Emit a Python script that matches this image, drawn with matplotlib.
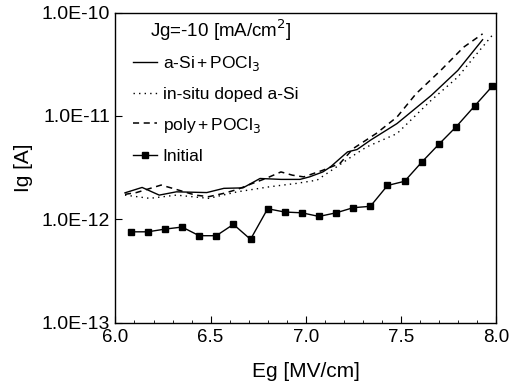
import matplotlib
matplotlib.use("Agg")
import matplotlib.pyplot as plt
from matplotlib.ticker import FixedLocator, MultipleLocator

plt.rcParams['font.family'] = ['Liberation Sans', 'DejaVu Sans']

# a-Si + POCl3 (solid)
eg_asi = [6.05, 6.14, 6.23, 6.32, 6.48, 6.57, 6.67, 6.76, 6.87, 6.97, 7.02, 7.09,
          7.13, 7.22, 7.27, 7.34, 7.48, 7.66, 7.80, 7.93]
ig_asi = [1.81e-12, 2.04e-12, 1.72e-12, 1.85e-12, 1.82e-12, 2.0e-12, 2.02e-12, 2.49e-12,
          2.44e-12, 2.44e-12, 2.58e-12, 2.88e-12, 3.22e-12, 4.5e-12, 4.74e-12, 5.83e-12,
          8.45e-12, 1.58e-11, 2.76e-11, 5.46e-11]

# in-situ doped a-Si (dotted)
eg_insitu = [6.05, 6.18, 6.32, 6.49, 6.64, 6.81, 6.95, 7.06, 7.15, 7.24, 7.32, 7.48,
             7.66, 7.80, 7.90, 7.98]
ig_insitu = [1.72e-12, 1.6e-12, 1.72e-12, 1.6e-12, 1.85e-12, 2.07e-12, 2.23e-12, 2.4e-12,
             3.11e-12, 4.03e-12, 5.02e-12, 6.76e-12, 1.42e-11, 2.38e-11, 4.0e-11, 6.0e-11]

# poly + POCl3 (dashed)
eg_poly = [6.05, 6.11, 6.24, 6.30, 6.42, 6.49, 6.57, 6.64, 6.72, 6.79, 6.87, 6.93,
           6.99, 7.09, 7.18, 7.25, 7.37, 7.48, 7.58, 7.71, 7.83, 7.93]
ig_poly = [1.75e-12, 1.82e-12, 2.15e-12, 2.0e-12, 1.72e-12, 1.66e-12, 1.79e-12, 1.95e-12,
           2.23e-12, 2.49e-12, 2.88e-12, 2.68e-12, 2.58e-12, 2.99e-12, 3.48e-12, 4.85e-12,
           6.76e-12, 9.77e-12, 1.64e-11, 2.76e-11, 4.62e-11, 6.22e-11]

# Initial (squares)
eg_init = [6.08, 6.17, 6.26, 6.35, 6.44, 6.53, 6.62, 6.71, 6.80, 6.89, 6.98, 7.07,
           7.16, 7.25, 7.34, 7.43, 7.52, 7.61, 7.70, 7.79, 7.89, 7.98]
ig_init = [7.6e-13, 7.6e-13, 8.07e-13, 8.45e-13, 6.97e-13, 6.97e-13, 8.97e-13, 6.43e-13,
           1.27e-12, 1.18e-12, 1.16e-12, 1.07e-12, 1.16e-12, 1.30e-12, 1.34e-12, 2.13e-12,
           2.34e-12, 3.58e-12, 5.33e-12, 7.83e-12, 1.26e-11, 1.93e-11]

yticks = [1e-13, 1e-12, 1e-11, 1e-10]
ytick_labels = ['1.0E-13', '1.0E-12', '1.0E-11', '1.0E-10']
xticks = [6.0, 6.5, 7.0, 7.5, 8.0]
xtick_labels = ['6.0', '6.5', '7.0', '7.5', '8.0']

fig = plt.figure(figsize=(5.19, 3.91), dpi=100)
ax = fig.add_axes([0.2225, 0.174, 0.733, 0.794])

ax.plot(eg_asi, ig_asi, color='black', lw=1.0, label='a-Si$\\,$+$\\,$POCl$_3$')
ax.plot(eg_insitu, ig_insitu, color='black', lw=1.0, linestyle=(0, (1, 3)),
        label='in-situ doped a-Si')
ax.plot(eg_poly, ig_poly, color='black', lw=1.1, linestyle=(0, (4, 3)),
        label='poly$\\,$+$\\,$POCl$_3$')
ax.plot(eg_init, ig_init, color='black', lw=1.0, marker='s', markersize=5,
        label='Initial')

ax.set_yscale('log')
ax.set_xlim(6.0, 8.0)
ax.set_ylim(1e-13, 1e-10)
ax.yaxis.set_major_locator(FixedLocator(yticks))
ax.set_yticklabels(ytick_labels)
ax.yaxis.set_minor_locator(FixedLocator([]))
ax.set_xticks(xticks)
ax.set_xticklabels(xtick_labels)
ax.xaxis.set_minor_locator(MultipleLocator(0.1))
ax.tick_params(axis='both', which='major', direction='in', length=5, width=0.8,
               labelsize=13.5, top=False, right=False, pad=4)
ax.tick_params(axis='y', which='major', labelsize=14)
ax.tick_params(axis='both', which='minor', direction='in', length=2.5, width=0.6,
               top=False, right=False)
for s in ax.spines.values():
    s.set_linewidth(1.0)

ax.set_xlabel('Eg [MV/cm]', fontsize=15, labelpad=12)
ax.set_ylabel('Ig [A]', fontsize=15, labelpad=6)

ax.text(0.091, 0.944, 'Jg=-10 [mA/cm$^2$]', transform=ax.transAxes,
        fontsize=13.5, ha='left', va='center')

leg = ax.legend(loc='upper left', bbox_to_anchor=(0.028, 0.89), frameon=False,
                fontsize=12.5, handlelength=1.4, handletextpad=0.3,
                labelspacing=0.8, borderaxespad=0.0)

fig.savefig('out.png', dpi=100)
